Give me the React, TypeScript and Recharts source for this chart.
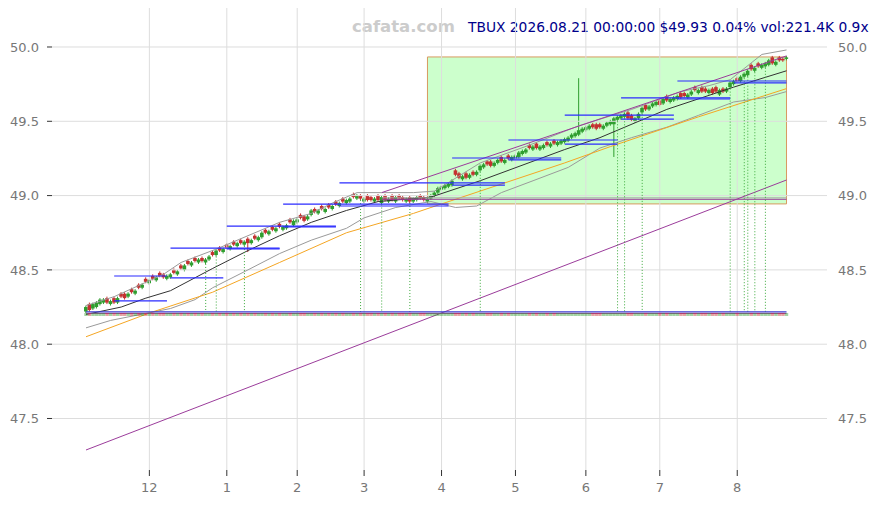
import React from 'react';
import {
  ComposedChart, Bar, Line, Scatter, XAxis, YAxis, ReferenceLine, ReferenceArea,
} from 'recharts';

// daily sessions, Nov 5 2025 .. Aug 21 2026 (200 sessions)
const closes = [
  48.25, 48.23, 48.27, 48.28, 48.30, 48.30, 48.28, 48.29, 48.28, 48.31,
  48.32, 48.31, 48.34, 48.35, 48.36, 48.38, 48.40, 48.42, 48.43, 48.44,
  48.45, 48.46, 48.45, 48.46, 48.47, 48.48, 48.49, 48.51, 48.53, 48.54,
  48.55, 48.56, 48.57, 48.56, 48.57, 48.59, 48.60, 48.63, 48.63, 48.64,
  48.65, 48.66, 48.67, 48.68, 48.68, 48.69, 48.68, 48.70, 48.71, 48.72,
  48.75, 48.75, 48.76, 48.77, 48.78, 48.79, 48.79, 48.80, 48.82, 48.83,
  48.84, 48.85, 48.83, 48.86, 48.90, 48.89, 48.90, 48.91, 48.91, 48.92,
  48.93, 48.94, 48.95, 48.96, 48.97, 48.98, 48.99, 49.00, 48.98, 48.98,
  48.97, 48.97, 48.98, 48.97, 48.99, 48.97, 48.98, 48.97, 48.99, 48.98,
  48.97, 48.98, 48.96, 48.98, 48.99, 48.98, 48.97, 48.98, 49.00, 49.02,
  49.05, 49.06, 49.07, 49.08, 49.10, 49.14, 49.12, 49.13, 49.12, 49.14,
  49.14, 49.16, 49.20, 49.21, 49.21, 49.20, 49.22, 49.24, 49.23, 49.24,
  49.25, 49.26, 49.27, 49.29, 49.30, 49.31, 49.32, 49.33, 49.32, 49.33,
  49.34, 49.34, 49.35, 49.35, 49.36, 49.37, 49.38, 49.39, 49.41, 49.42,
  49.44, 49.45, 49.46, 49.47, 49.46, 49.45, 49.46, 49.47, 49.49, 49.50,
  49.52, 49.53, 49.54, 49.55, 49.52, 49.51, 49.52, 49.55, 49.59, 49.58,
  49.60, 49.62, 49.63, 49.61, 49.65, 49.64, 49.65, 49.66, 49.67, 49.66,
  49.67, 49.68, 49.70, 49.71, 49.71, 49.70, 49.70, 49.71, 49.69, 49.70,
  49.71, 49.70, 49.72, 49.76, 49.77, 49.77, 49.80, 49.82, 49.84, 49.85,
  49.86, 49.87, 49.88, 49.89, 49.91, 49.89, 49.90, 49.91, 49.91, 49.93,
];
const opens = [
  48.22, 48.27, 48.24, 48.25, 48.27, 48.28, 48.31, 48.27, 48.31, 48.28,
  48.34, 48.34, 48.32, 48.37, 48.34, 48.40, 48.38, 48.44, 48.41, 48.46,
  48.43, 48.48, 48.47, 48.44, 48.45, 48.50, 48.47, 48.53, 48.50, 48.56,
  48.53, 48.58, 48.55, 48.58, 48.55, 48.57, 48.62, 48.60, 48.65, 48.62,
  48.67, 48.64, 48.69, 48.66, 48.70, 48.67, 48.71, 48.68, 48.73, 48.70,
  48.72, 48.77, 48.74, 48.79, 48.76, 48.81, 48.77, 48.78, 48.84, 48.80,
  48.82, 48.87, 48.86, 48.84, 48.87, 48.91, 48.88, 48.93, 48.89, 48.94,
  48.91, 48.96, 48.93, 48.98, 48.95, 48.96, 49.01, 48.98, 49.00, 48.96,
  49.00, 48.99, 48.96, 49.00, 48.95, 49.00, 48.96, 49.00, 48.96, 49.00,
  48.99, 48.96, 48.99, 48.96, 48.97, 49.00, 48.99, 48.96, 48.98, 49.00,
  49.02, 49.04, 49.05, 49.06, 49.07, 49.17, 49.15, 49.11, 49.15, 49.12,
  49.16, 49.14, 49.17, 49.19, 49.23, 49.23, 49.20, 49.22, 49.26, 49.22,
  49.27, 49.24, 49.25, 49.26, 49.28, 49.29, 49.34, 49.31, 49.35, 49.31,
  49.32, 49.36, 49.33, 49.37, 49.34, 49.35, 49.36, 49.37, 49.39, 49.40,
  49.41, 49.43, 49.44, 49.45, 49.48, 49.48, 49.48, 49.45, 49.47, 49.48,
  49.48, 49.51, 49.52, 49.53, 49.56, 49.54, 49.50, 49.52, 49.56, 49.61,
  49.58, 49.60, 49.61, 49.64, 49.62, 49.67, 49.63, 49.64, 49.65, 49.69,
  49.69, 49.66, 49.68, 49.73, 49.69, 49.73, 49.72, 49.69, 49.72, 49.73,
  49.68, 49.72, 49.70, 49.73, 49.75, 49.79, 49.77, 49.80, 49.81, 49.88,
  49.84, 49.89, 49.86, 49.87, 49.88, 49.93, 49.88, 49.93, 49.92, 49.92,
];
const longWicks = [
  { i: 46, low: 48.62 },
  { i: 140, high: 49.79 },
  { i: 150, low: 49.26 },
];

const monthTicks = [18, 40, 60, 79, 101, 122, 142, 163, 185];
const monthLabels = ['12', '1', '2', '3', '4', '5', '6', '7', '8'];
const priceTicks = [47.5, 48, 48.5, 49, 49.5, 50];

// [index, value] points
const smaFast = [[0, 48.20], [10, 48.25], [17, 48.31], [24, 48.36], [36, 48.51], [46, 48.63], [55, 48.73], [64, 48.82], [74, 48.90], [83, 48.96], [93, 48.98], [98, 48.99], [112, 49.10], [136, 49.31], [146, 49.39], [152, 49.45], [165, 49.58], [184, 49.73], [199, 49.84]];
const smaSlow = [[0, 48.05], [18, 48.21], [36, 48.35], [55, 48.55], [74, 48.75], [93, 48.88], [98, 48.92], [136, 49.22], [149, 49.33], [174, 49.53], [199, 49.72]];
const bandUpper = [[0, 48.26], [8, 48.32], [22, 48.47], [27, 48.55], [37, 48.64], [46, 48.73], [55, 48.82], [64, 48.88], [70, 48.95], [77, 49.02], [84, 49.02], [93, 49.02], [99, 49.03], [112, 49.22], [126, 49.34], [140, 49.47], [155, 49.58], [169, 49.70], [177, 49.74], [183, 49.78], [192, 49.95], [199, 49.98]];
const bandLower = [[0, 48.11], [7, 48.16], [24, 48.24], [31, 48.30], [36, 48.38], [46, 48.50], [55, 48.61], [64, 48.70], [74, 48.78], [79, 48.85], [88, 48.92], [98, 48.96], [105, 48.92], [111, 48.93], [118, 49.02], [127, 49.10], [137, 49.19], [146, 49.32], [155, 49.39], [165, 49.46], [174, 49.54], [184, 49.63], [193, 49.66], [199, 49.70]];

// [from, to, level]
const levelSegments = [
  [8, 23, 48.291], [8, 23, 48.459], [24, 39, 48.446], [24, 55, 48.647], [40, 55, 48.641],
  [40, 71, 48.795], [56, 71, 48.789], [56, 103, 48.943], [72, 103, 48.930], [72, 119, 49.085],
  [104, 119, 49.071], [104, 135, 49.253], [120, 135, 49.240], [120, 151, 49.374], [136, 151, 49.347],
  [136, 167, 49.542], [152, 167, 49.515], [152, 183, 49.657], [168, 183, 49.650], [168, 199, 49.771],
  [184, 199, 49.758],
];
const trendLow = [[0, 47.288], [199, 49.105]];
const trendHigh = [[84, 49.02], [199, 49.94]];
const flatPurple = [[84, 48.975], [199, 48.975]];
const flatGray = [[84, 48.985], [199, 48.985]];
const signalDays = [34, 37, 45, 78, 84, 92, 112, 151, 153, 158, 183, 187, 188, 190, 193];
const stripLevel = 48.20;
const baseBlue = 48.217;
const basePurple = 48.207;
const zone = { from: 97, to: 199, low: 48.944, high: 49.933 };

const UP = '#2f9e2f';
const DOWN = '#c43131';

const rows: any[] = closes.map((c, i) => {
  const open = opens[i];
  const w = longWicks.find((x) => x.i === i);
  const high = w && w.high ? w.high : Math.max(open, c) + 0.01;
  const low = w && w.low ? w.low : Math.min(open, c) - 0.01;
  return { i, open, close: c, low, range: [low, high], strip: stripLevel };
});
const put = (pts: number[][], key: string) => pts.forEach(([i, v]) => { rows[i][key] = v; });
put(smaFast, 'fast');
put(smaSlow, 'slow');
put(bandUpper, 'upper');
put(bandLower, 'lower');

const Candle = (props: any) => {
  const { x, y, width, height, payload } = props;
  if (x == null || !payload) return null;
  const [low, high] = payload.range;
  const top = Math.min(y, y + height);
  const h = Math.abs(height);
  const ppu = h / (high - low);
  const cx = x + width / 2;
  const up = payload.close >= payload.open;
  const color = up ? UP : DOWN;
  const bTop = top + (high - Math.max(payload.open, payload.close)) * ppu;
  const bH = Math.max(1.5, Math.abs(payload.close - payload.open) * ppu);
  return (
    <g>
      <line x1={cx} x2={cx} y1={top} y2={top + h} stroke={color} strokeWidth={1} />
      <rect x={cx - 1.8} y={bTop} width={3.6} height={bH} fill={color} />
    </g>
  );
};

const StripMark = (props: any) => {
  const { cx, cy, payload } = props;
  if (cx == null) return null;
  const up = payload.close >= payload.open;
  return <rect x={cx - 1.7} y={cy - 1.5} width={3.4} height={3} fill={up ? UP : DOWN} fillOpacity={0.45} />;
};

const seg = (pts: number[][]) => pts.map(([x, y]) => ({ x, y }));

export default function App() {
  return (
    <div style={{ position: 'absolute', left: 0, top: 0, width: 878, height: 505, background: '#fff', fontFamily: '"DejaVu Sans", sans-serif' }}>
      <div style={{ position: 'absolute', left: 352, top: 18.5, fontSize: 16.5, lineHeight: 1, fontWeight: 'bold', color: '#cccccc', whiteSpace: 'nowrap' }}>
        cafata.com
      </div>
      <div style={{ position: 'absolute', left: 468, top: 20.8, fontSize: 13.8, lineHeight: 1, color: '#00008b', whiteSpace: 'nowrap' }}>
        TBUX 2026.08.21 00:00:00 $49.93 0.04% vol:221.4K 0.9x
      </div>
      <ComposedChart width={878} height={505} data={rows} margin={{ top: 8, right: 0, bottom: 0, left: 0 }}>
        <XAxis
          dataKey="i" type="number" domain={[-9.66, 210.5]} allowDataOverflow
          ticks={monthTicks} interval={0}
          tickFormatter={(v) => monthLabels[monthTicks.indexOf(v)]}
          axisLine={false} tickLine={{ stroke: '#333' }} tickSize={6} tickMargin={7} height={35}
          tick={{ fill: '#777', fontSize: 13 }}
        />
        <YAxis
          type="number" domain={[47.1534, 50.2624]} allowDataOverflow ticks={priceTicks} interval={0}
          tickFormatter={(v) => v.toFixed(1)} axisLine={false} tickLine={{ stroke: '#333' }}
          tickSize={5} tickMargin={8} width={52} tick={{ fill: '#777', fontSize: 13 }}
        />
        <YAxis
          yAxisId="r" orientation="right" type="number" domain={[47.1534, 50.2624]} allowDataOverflow
          ticks={priceTicks} interval={0} tickFormatter={(v) => v.toFixed(1)} axisLine={false}
          tickLine={false} tickSize={6} tickMargin={5} width={51} tick={{ fill: '#777', fontSize: 13 }}
        />
        {priceTicks.map((t) => <ReferenceLine key={'gy' + t} y={t} stroke="#dddddd" strokeWidth={1} />)}
        {monthTicks.map((t) => <ReferenceLine key={'gx' + t} x={t} stroke="#dddddd" strokeWidth={1} />)}
        <ReferenceArea x1={zone.from} x2={zone.to} y1={zone.low} y2={zone.high} fill="#99ff99" fillOpacity={0.5} stroke="#d89a60" strokeWidth={1} />
        <Line dataKey="lower" stroke="#9a9a9a" strokeWidth={1} dot={false} connectNulls isAnimationActive={false} />
        <Line dataKey="upper" stroke="#9a9a9a" strokeWidth={1} dot={false} connectNulls isAnimationActive={false} />
        <Line dataKey="slow" stroke="#f5a623" strokeWidth={1} dot={false} connectNulls isAnimationActive={false} />
        <Line dataKey="fast" stroke="#333333" strokeWidth={1} dot={false} connectNulls isAnimationActive={false} />
        <ReferenceLine segment={seg(flatGray)} stroke="#aaaaaa" strokeWidth={1} />
        <ReferenceLine segment={seg(flatPurple)} stroke="#9b3c9b" strokeWidth={1} />
        <ReferenceLine segment={seg(trendLow)} stroke="#9b3c9b" strokeWidth={1} />
        <ReferenceLine segment={seg(trendHigh)} stroke="#9b3c9b" strokeWidth={1} />
        {signalDays.map((d) => (
          <ReferenceLine key={'s' + d} segment={[{ x: d, y: rows[d].low }, { x: d, y: baseBlue }]} stroke="#3aa83a" strokeWidth={1} strokeDasharray="1 2" />
        ))}
        {levelSegments.map(([a, b, v], k) => (
          <ReferenceLine key={'l' + k} segment={[{ x: a, y: v }, { x: b, y: v }]} stroke="#2b2bff" strokeWidth={1.2} />
        ))}
        <ReferenceLine segment={[{ x: 0, y: baseBlue }, { x: 199, y: baseBlue }]} stroke="#3b3bd0" strokeWidth={1.2} />
        <ReferenceLine segment={[{ x: 0, y: basePurple }, { x: 199, y: basePurple }]} stroke="#9b3c9b" strokeWidth={1} />
        <Scatter dataKey="strip" shape={StripMark} isAnimationActive={false} />
        <Bar dataKey="range" barSize={4} shape={Candle} isAnimationActive={false} />
      </ComposedChart>
    </div>
  );
}
